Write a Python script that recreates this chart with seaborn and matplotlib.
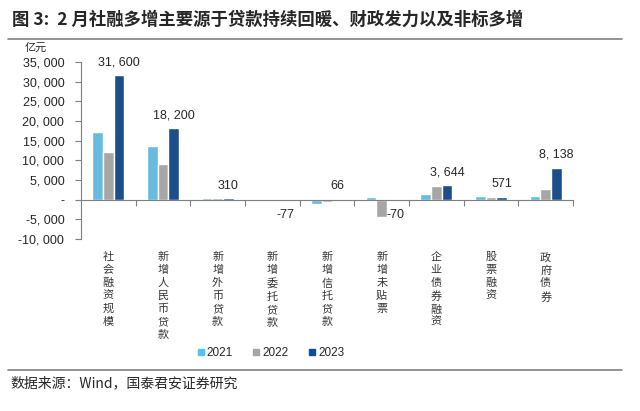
import numpy as np
import pandas as pd
import matplotlib
matplotlib.use("Agg")
import matplotlib.pyplot as plt
import seaborn as sns
from matplotlib.lines import Line2D
from matplotlib.ticker import FuncFormatter

# Data (亿元)
categories = ["社会融资规模", "新增人民币贷款", "新增外币贷款", "新增委托贷款",
              "新增信托贷款", "新增未贴票", "企业债券融资", "股票融资", "政府债券"]
years = ["2021", "2022", "2023"]
v2021 = [17100, 13600, 480, -60, -1000, 650, 1400, 900, 1000]
v2022 = [12000, 9100, 450, 80, -600, -4300, 3600, 680, 2800]
v2023 = [31600, 18200, 310, -77, 66, -70, 3644, 571, 8138]
colors = ["#55C3F0", "#A6A6A6", "#0A4E9B"]

sns.set_style("white")
plt.rcParams["font.family"] = ["Noto Sans CJK SC", "DejaVu Sans"]
num_font = ["Liberation Sans", "DejaVu Sans"]

df = pd.DataFrame({
    "category": categories * 3,
    "year": sum([[y] * len(categories) for y in years], []),
    "value": v2021 + v2022 + v2023,
})

fig = plt.figure(figsize=(6.4, 4.11), dpi=100)
ax = fig.add_axes([81 / 640, 1 - 239 / 411, 492 / 640, 177 / 411])

sns.barplot(data=df, x="category", y="value", hue="year", order=categories,
            hue_order=years, palette=colors, width=0.58, ax=ax,
            errorbar=None, legend=False)

ax.set_xlim(-0.5, len(categories) - 0.5)
ax.set_ylim(-10000, 35000)
ax.set_yticks(np.arange(-10000, 35001, 5000))


def fmt(v, pos=None):
    if v == 0:
        return "-"
    return f"{int(v):,}".replace(",", ", ")


ax.yaxis.set_major_formatter(FuncFormatter(fmt))
for lab in ax.get_yticklabels():
    lab.set_fontfamily(num_font)
ax.tick_params(axis="y", labelsize=9, length=4, direction="out",
               color="#7F7F7F", left=True, pad=8)
ax.set_xlabel("")
ax.set_ylabel("")

for s in ["top", "right"]:
    ax.spines[s].set_visible(False)
ax.spines["left"].set_color("#7F7F7F")
ax.spines["bottom"].set_position(("data", 0))
ax.spines["bottom"].set_color("#7F7F7F")
ax.set_xticks(np.arange(0.5, len(categories) - 0.5 + 0.01, 1.0))
ax.set_xticklabels([])
ax.tick_params(axis="x", length=4, direction="out", color="#7F7F7F", bottom=True)

# data labels for 2023
off = 0.58 / 3
for i, v in enumerate(v2023):
    x = i + off
    if v >= 0:
        ax.annotate(fmt(v), (x, v), xytext=(0, 5), textcoords="offset points",
                    ha="center", va="bottom", fontsize=9, family=num_font)
    else:
        ax.annotate(fmt(v), (x, 0), xytext=(2, -7), textcoords="offset points",
                    ha="center", va="top", fontsize=9, family=num_font)

# vertical category labels
for i, c in enumerate(categories):
    fig.text((81 + (i + 0.5) * 492 / 9) / 640, 1 - 252 / 411, "\n".join(c),
             ha="center", va="top", fontsize=8, linespacing=1.35, color="#333333")

fig.text(25 / 640, 1 - 48 / 411, "亿元", fontsize=8, ha="left", va="center")

# legend
handles = [Line2D([0], [0], marker="s", linestyle="", markersize=5,
                  markerfacecolor=c, markeredgecolor=c) for c in colors]
leg = fig.legend(handles, years, loc="center", bbox_to_anchor=(270 / 640, 1 - 353 / 411),
                 ncol=3, frameon=False, fontsize=8.5, handletextpad=0.1,
                 columnspacing=1.6, handlelength=0.8)
for t in leg.get_texts():
    t.set_fontfamily(num_font)

# title, rules and source
fig.text(12 / 640, 1 - 20 / 411, "图 3:  2 月社融多增主要源于贷款持续回暖、财政发力以及非标多增",
         fontsize=12.5, fontweight="bold", ha="left", va="center")
fig.add_artist(Line2D([8 / 640, 622 / 640], [1 - 39 / 411] * 2, color="#808080", lw=1.2))
fig.add_artist(Line2D([8 / 640, 622 / 640], [1 - 370 / 411] * 2, color="#808080", lw=1.2))
fig.text(10 / 640, 1 - 383 / 411, "数据来源：Wind，国泰君安证券研究", fontsize=10,
         ha="left", va="center")

fig.savefig("out.png", dpi=100)
